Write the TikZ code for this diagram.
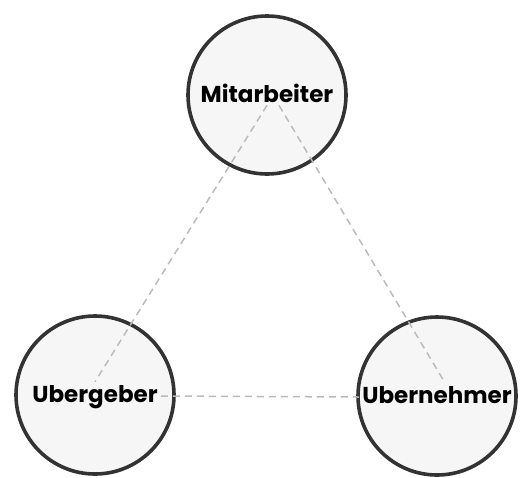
\documentclass[tikz,border=0pt]{standalone}
\usepackage{fontspec}
\setmainfont{Poppins}
\definecolor{rimgray}{HTML}{333333}
\definecolor{discfill}{HTML}{F6F6F6}
\definecolor{linkgray}{HTML}{BBBBBB}
\begin{document}
\begin{tikzpicture}[x=1pt,y=-1pt,
  party/.style={circle, draw=rimgray, line width=3.6pt, fill=discfill, minimum size=158pt, inner sep=0pt},
  tag/.style={font=\fontsize{23}{23}\selectfont\bfseries, inner sep=3pt, anchor=base, yshift=-7pt},
  link/.style={draw=linkgray, line width=1.5pt, dash pattern=on 7pt off 5pt}]
\useasboundingbox (0,0) rectangle (524,477);

% the three parties
\node[party] (mit) at (267,95) {};
\node[party] (geb) at (95,395) {};
\node[party] (neh) at (437,396) {};

\node[tag] (mitT) at (mit) {Mitarbeiter};
\node[tag] (gebT) at (geb) {Ubergeber};
\node[tag] (nehT) at (neh) {Ubernehmer};

% dashed links
\draw[link] (mitT.south) -- (gebT.north);
\draw[link] ([xshift=12pt]mitT.south) -- ([xshift=8pt]nehT.north);
\draw[link] ([yshift=6pt]gebT.base east) -- ([yshift=6pt]nehT.base west);
\end{tikzpicture}
\end{document}
